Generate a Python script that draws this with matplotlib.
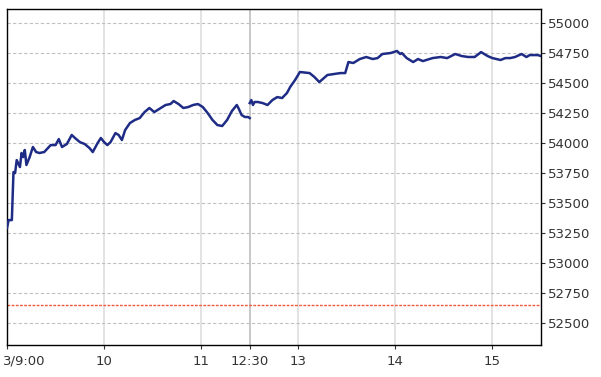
import numpy as np
from matplotlib import pyplot as plt
from matplotlib import transforms

# morning session (9:00 - 11:30)
am_times = ["9:00", "9:01", "9:03", "9:04", "9:05", "9:06", "9:08", "9:09", "9:10", "9:11",
            "9:12", "9:14", "9:16", "9:18", "9:20", "9:23", "9:27", "9:30", "9:32", "9:34",
            "9:37", "9:40", "9:42", "9:45", "9:48", "9:51", "9:53", "9:56", "9:58", "10:00",
            "10:02", "10:04", "10:07", "10:09", "10:11", "10:13", "10:16", "10:19", "10:22", "10:25",
            "10:28", "10:31", "10:35", "10:38", "10:41", "10:43", "10:46", "10:49", "10:52", "10:55",
            "10:58", "11:01", "11:04", "11:07", "11:10", "11:13", "11:16", "11:19", "11:22", "11:23",
            "11:25", "11:27", "11:29", "11:30"]
am_prices = [53292, 53358, 53358, 53758, 53750, 53858, 53800, 53917, 53883, 53942,
             53817, 53883, 53967, 53925, 53917, 53925, 53983, 53983, 54033, 53967,
             53992, 54067, 54042, 54008, 53992, 53958, 53925, 54000, 54042, 54008,
             53983, 54008, 54083, 54067, 54025, 54108, 54167, 54192, 54208, 54258,
             54292, 54258, 54292, 54317, 54325, 54350, 54325, 54292, 54300, 54317,
             54325, 54300, 54250, 54192, 54150, 54142, 54192, 54267, 54317, 54292,
             54233, 54217, 54217, 54208]

# afternoon session (12:30 - 15:30)
pm_times = ["12:30", "12:31", "12:32", "12:33", "12:35", "12:38", "12:41", "12:44", "12:47", "12:50",
            "12:53", "12:55", "12:58", "13:01", "13:07", "13:10", "13:13", "13:18", "13:26", "13:29",
            "13:31", "13:34", "13:38", "13:42", "13:46", "13:49", "13:52", "13:57", "14:01", "14:03",
            "14:04", "14:07", "14:11", "14:14", "14:17", "14:23", "14:28", "14:32", "14:37", "14:41",
            "14:45", "14:49", "14:53", "14:57", "15:00", "15:05", "15:08", "15:11", "15:14", "15:18",
            "15:21", "15:23", "15:28", "15:30"]
pm_prices = [54333, 54358, 54317, 54342, 54342, 54333, 54317, 54358, 54383, 54375,
             54417, 54467, 54525, 54592, 54583, 54550, 54508, 54567, 54583, 54583,
             54675, 54667, 54700, 54717, 54700, 54708, 54742, 54750, 54767, 54742,
             54750, 54708, 54675, 54700, 54683, 54708, 54717, 54708, 54742, 54725,
             54717, 54717, 54758, 54725, 54708, 54692, 54708, 54708, 54717, 54742,
             54717, 54733, 54733, 54725]

prev_close = 52650
y_ticks = [52500, 52750, 53000, 53250, 53500, 53750, 54000, 54250, 54500, 54750, 55000]
x_ticks = ["9:00", "10:00", "11:00", "12:30", "13:00", "14:00", "15:00"]
x_labels = ["3/9:00", "10", "11", "12:30", "13", "14", "15"]


def to_min(t):
    # minutes since open, lunch break removed
    h, m = t.split(":")
    v = int(h) * 60 + int(m) - 540
    if v >= 210:
        v -= 60
    return v


fig = plt.figure(figsize=(6.01, 3.77), dpi=100)
ax = fig.add_axes([7 / 601, 1 - 345 / 377, 534 / 601, 336 / 377])

xt = [to_min(t) for t in x_ticks]
for x in xt:
    c = '#c4c4c4' if x == 150 else '#e0e0e0'
    ax.axvline(x, color=c, lw=1.3, zorder=1)
for y in y_ticks:
    ax.axhline(y, color='#c0c0c0', lw=0.8, ls=(0, (3, 2)), zorder=1)

ax.axhline(prev_close, color='#f05a3c', lw=1.0, ls=(0, (2, 1)), zorder=2)

ax.plot([to_min(t) for t in am_times], am_prices, color='#1f2c86', lw=1.8, zorder=3)
ax.plot([to_min(t) for t in pm_times], pm_prices, color='#1f2c86', lw=1.8, zorder=3)

ax.set_xlim(0, 330)
ax.set_ylim(52317, 55117)
ax.set_xticks(xt)
ax.set_xticklabels(x_labels)
ax.set_yticks(y_ticks)
ax.yaxis.tick_right()
ax.tick_params(axis='both', labelsize=9.5, colors='#333333', length=3, width=0.8)
ax.tick_params(axis='y', pad=2)
ax.tick_params(axis='x', pad=4)
for s in ax.spines.values():
    s.set_color('black')
    s.set_linewidth(1.0)

# first label sits against the left edge
first = ax.get_xticklabels()[0]
first.set_horizontalalignment('left')
first.set_transform(first.get_transform() + transforms.ScaledTranslation(-4 / 100, 0, fig.dpi_scale_trans))

fig.savefig("out.png", dpi=100)
